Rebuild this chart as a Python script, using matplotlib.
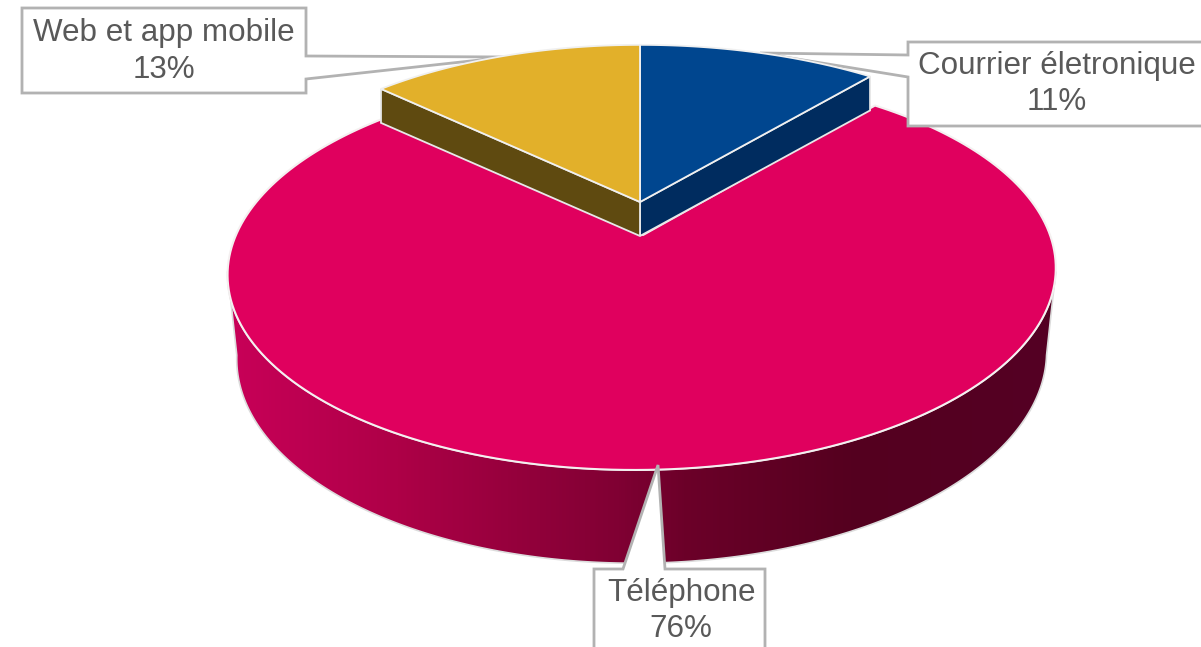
#!/bin/python

import numpy as np
import matplotlib.pyplot as plt
from matplotlib.patches import Polygon
from matplotlib.colors import LinearSegmentedColormap

labels = ["Courrier életronique", "Téléphone", "Web et app mobile"]
shares = [11, 76, 13]

TOP_COLORS = ["#00468f", "#e0005e", "#e2b02a"]
WALL_COLORS = ["#002c5f", None, "#5f4a10"]
TEXT_COLOR = "#595959"
BOX_COLOR = "#b2b2b2"
FONT_SIZE = 22.6
K = 0.1837


# clockwise angle from the top of the pie, perspective like the 3d pie
def project(theta, cx, cy, f, g, skew=0.0):
    xx = np.sin(theta)
    yy = np.cos(theta)
    w = 1 + K * yy
    return np.column_stack((cx + (f * xx + skew * yy) / w, cy - g * yy / w))


def slice_points(start, end, cx, cy, f, g, skew=0.0):
    arc = project(np.linspace(start, end, 200), cx, cy, f, g, skew)
    return np.vstack(([[cx, cy]], arc))


def pointer_outline(left, right, top, bottom, pointer):
    side, a, b, tip = pointer
    if side == "right":
        return [(left, top), (right, top), (right, a), tip, (right, b), (right, bottom), (left, bottom)]
    if side == "left":
        return [(left, top), (right, top), (right, bottom), (left, bottom), (left, b), tip, (left, a)]
    return [(left, top), (a, top), tip, (b, top), (right, top), (right, bottom), (left, bottom)]


def callout(ax, box, pointer, label, share, text_x, lines_y):
    left, right, top, bottom = box
    pts = pointer_outline(left, right, top, bottom, pointer)
    ax.add_patch(Polygon(pts, closed=True, facecolor="white", edgecolor=BOX_COLOR,
                         linewidth=2.0, joinstyle="miter", zorder=5))
    ax.text(text_x, lines_y[0], label, ha="center", va="center", fontsize=FONT_SIZE,
            color=TEXT_COLOR, zorder=6)
    ax.text(text_x, lines_y[1], str(share) + "%", ha="center", va="center", fontsize=FONT_SIZE,
            color=TEXT_COLOR, zorder=6)


plt.rcParams['font.family'] = ['Liberation Sans', 'DejaVu Sans']

fig = plt.figure(figsize=(12.01, 6.47), dpi=100)
ax = fig.add_axes([0, 0, 1, 1])
ax.set_xlim(0, 1201)
ax.set_ylim(647, 0)
ax.axis("off")

edges = np.cumsum([0] + shares) / float(sum(shares)) * 2 * np.pi

# big slice, side wall first with the left to right shading
pink_top = (643, 235, 407, 191.8, 7.0)
pink_bottom = (643, 317, 398, 201, 7.0)
t0 = np.pi / 2 + np.arcsin(K)
t1 = 3 * np.pi / 2 - np.arcsin(K)
wall_top = project(np.linspace(t0, t1, 300), *pink_top)
wall_bottom = project(np.linspace(t1, t0, 300), *pink_bottom)
wall = Polygon(np.vstack((wall_top, wall_bottom)), closed=True, facecolor="none",
               edgecolor="#dcdcdc", linewidth=1.2, zorder=1.5)
ax.add_patch(wall)

shade = LinearSegmentedColormap.from_list("shade", [
    (0.0, "#c80058"), (0.2, "#ae0047"), (0.47, "#800033"), (0.55, "#6c0029"),
    (0.75, "#55001f"), (1.0, "#540024")])
img = ax.imshow(np.linspace(0, 1, 400).reshape(1, -1), extent=(229, 1057, 570, 260), cmap=shade,
                aspect="auto", zorder=1)
ax.set_xlim(0, 1201)
ax.set_ylim(647, 0)
img.set_clip_path(wall)

ax.add_patch(Polygon(slice_points(edges[1], edges[2], *pink_top), closed=True, facecolor=TOP_COLORS[1],
                     edgecolor="#f4f0f0", linewidth=1.5, joinstyle="round", zorder=2))

# callouts go above the big slice, small slices above the callouts
callout(ax, (22, 306, 8, 93), ("right", 56, 79, (507, 57)), labels[2], shares[2], 164, (33, 70))
callout(ax, (908, 1215, 42, 126), ("left", 55, 77, (760, 53)), labels[0], shares[0], 1057, (66, 102))
callout(ax, (594, 765, 569, 665), ("top", 623, 665, (658, 465)), labels[1], shares[1], 681, (593, 629))

# the two small slices sit pulled out, each with a straight wall on its open side
small_geom = {0: (640, 202, 412, 186), 2: (640, 202, 400, 186)}
for i, side in ((0, 1), (2, 0)):
    top_geom = small_geom[i]
    low_geom = (top_geom[0], 236, top_geom[2], top_geom[3])
    edge = edges[i + side]
    a = project(np.array([edge]), *top_geom)[0]
    b = project(np.array([edge]), *low_geom)[0]
    ax.add_patch(Polygon([top_geom[:2], a, b, low_geom[:2]], closed=True, facecolor=WALL_COLORS[i],
                         edgecolor="#e8e8e8", linewidth=1.3, zorder=7))
    ax.add_patch(Polygon(slice_points(edges[i], edges[i + 1], *top_geom), closed=True,
                         facecolor=TOP_COLORS[i], edgecolor="#f0f0f0", linewidth=1.3, zorder=8))

fig.savefig("out.png", dpi=100)
